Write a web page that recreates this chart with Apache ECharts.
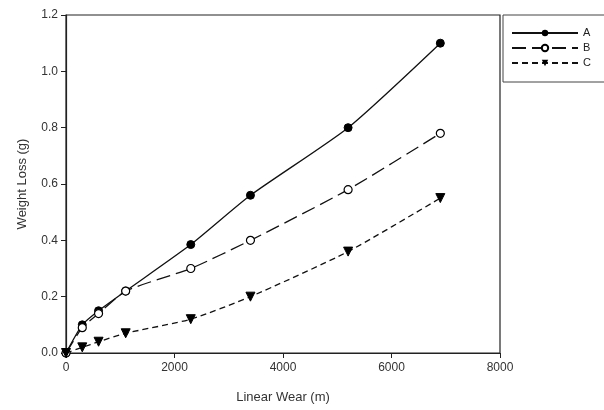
<!DOCTYPE html>
<html>
<head>
<meta charset="utf-8">
<script src="https://cdn.jsdelivr.net/npm/echarts@6/dist/echarts.min.js"></script>
<style>
  html, body { margin: 0; padding: 0; background: #fff; }
  #chart { width: 604px; height: 410px; }
</style>
</head>
<body>
<div id="chart"></div>
<script>
// distances (m) and weight loss (g)
const wear = [0, 300, 600, 1100, 2300, 3400, 5200, 6900];
const lossA = [0, 0.10, 0.15, 0.22, 0.385, 0.56, 0.80, 1.10];
const lossB = [0, 0.09, 0.14, 0.22, 0.30, 0.40, 0.58, 0.78];
const lossC = [0, 0.02, 0.04, 0.07, 0.12, 0.20, 0.36, 0.55];
const names = ['A', 'B', 'C'];

const pairs = (ys) => wear.map((x, i) => [x, ys[i]]);
const font = 'Liberation Sans, Arial, sans-serif';

const chart = echarts.init(document.getElementById('chart'));
chart.setOption({
  backgroundColor: '#fff',
  animation: false,
  grid: {
    left: 66, right: 104, top: 15, bottom: 57,
    show: true, borderColor: '#222', borderWidth: 1.2, backgroundColor: 'transparent'
  },
  legend: {
    left: 503, top: 15, orient: 'vertical',
    data: names,
    itemWidth: 66, itemHeight: 8, itemGap: 1,
    padding: [11, 30, 12, 8],
    borderColor: '#444', borderWidth: 1,
    textStyle: { fontFamily: font, fontSize: 11, color: '#222', lineHeight: 14 }
  },
  xAxis: {
    type: 'value', min: 0, max: 8000, interval: 2000,
    name: 'Linear Wear (m)', nameLocation: 'middle', nameGap: 38,
    nameTextStyle: { fontFamily: font, fontSize: 13, color: '#333' },
    axisLine: { show: true, lineStyle: { color: '#222', width: 1.2 } },
    axisTick: { show: true, length: 5, lineStyle: { color: '#222' } },
    axisLabel: { fontFamily: font, fontSize: 12, color: '#333', margin: 9,
      formatter: v => String(v) },
    splitLine: { show: false }
  },
  yAxis: {
    type: 'value', min: 0, max: 1.2, interval: 0.2,
    name: 'Weight Loss (g)', nameLocation: 'middle', nameGap: 37,
    nameTextStyle: { fontFamily: font, fontSize: 13, color: '#333' },
    axisLine: { show: true, lineStyle: { color: '#222', width: 1.2 } },
    axisTick: { show: true, length: 5, lineStyle: { color: '#222' } },
    axisLabel: { fontFamily: font, fontSize: 12, color: '#333', margin: 8,
      formatter: v => v.toFixed(1) },
    splitLine: { show: false }
  },
  series: [
    {
      name: 'A', type: 'line', data: pairs(lossA), smooth: 0.2,
      symbol: 'circle', symbolSize: 8,
      itemStyle: { color: '#000', borderColor: '#000' },
      lineStyle: { color: '#111', width: 1.3, type: 'solid' }
    },
    {
      name: 'B', type: 'line', data: pairs(lossB), smooth: 0.2,
      symbol: 'circle', symbolSize: 8,
      itemStyle: { color: '#fff', borderColor: '#000', borderWidth: 1.2 },
      lineStyle: { color: '#111', width: 1.3, type: [14, 6] }
    },
    {
      name: 'C', type: 'line', data: pairs(lossC), smooth: 0.2,
      symbol: 'triangle', symbolRotate: 180, symbolSize: 9,
      itemStyle: { color: '#000', borderColor: '#000' },
      lineStyle: { color: '#111', width: 1.3, type: [6, 4] }
    }
  ]
});
</script>
</body>
</html>
